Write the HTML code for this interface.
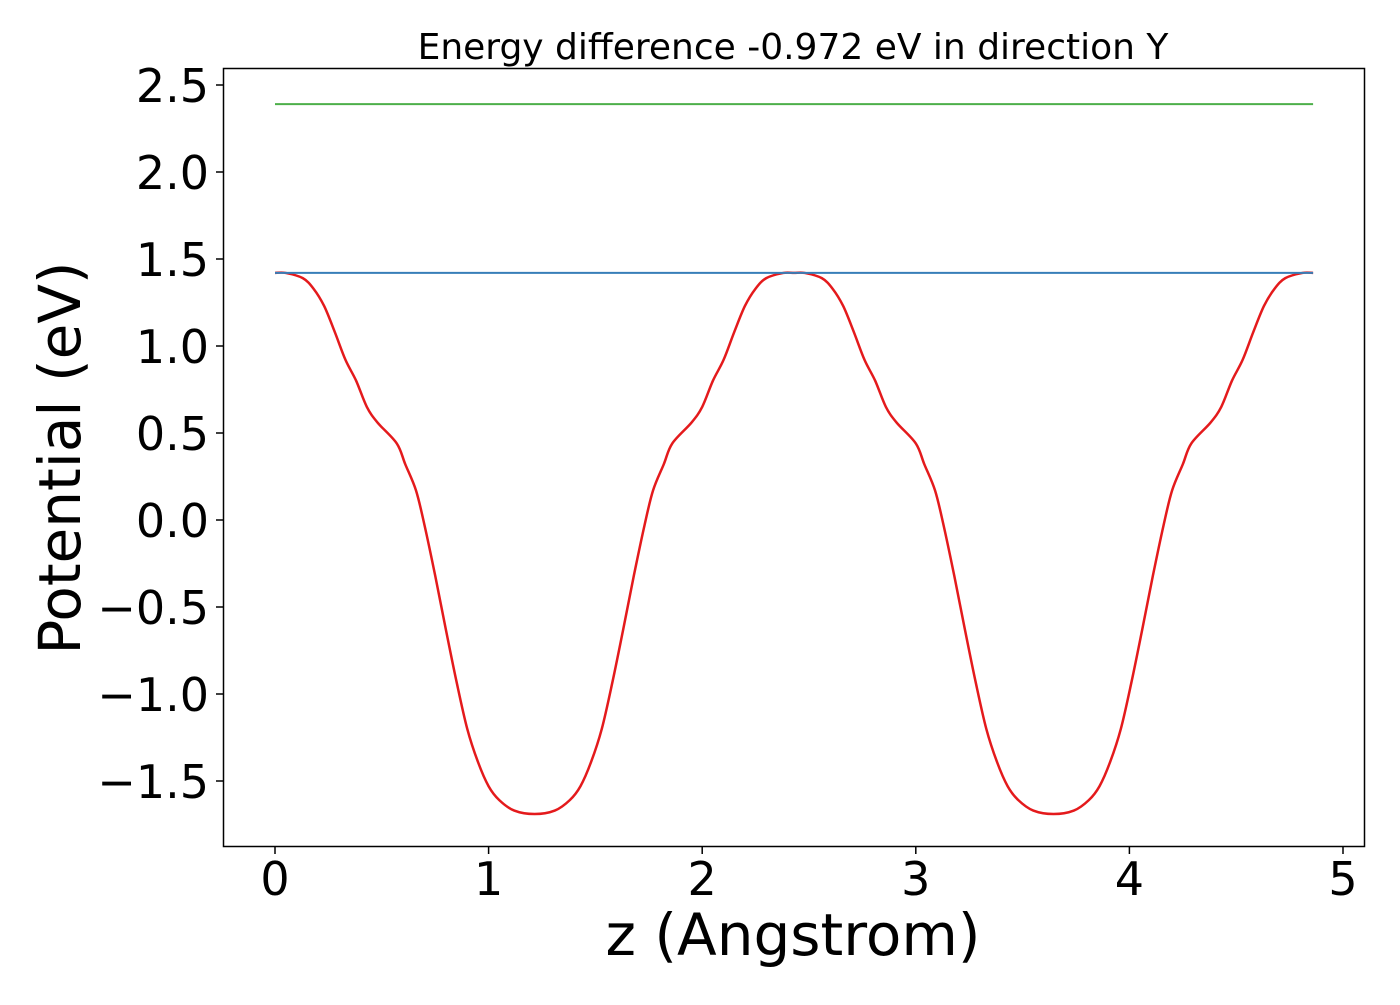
<!DOCTYPE html>
<html><head><meta charset="utf-8"><style>
body{margin:0;background:#fff;}
svg text{font-family:"DejaVu Sans","Liberation Sans",sans-serif;fill:#000;}
</style></head><body>
<svg id="chart" width="1400" height="1000" xmlns="http://www.w3.org/2000/svg">
<rect x="0" y="0" width="1400" height="1000" fill="#fff"/>
<g id="plot"></g>
<rect x="223.5" y="68.5" width="1141" height="778" fill="none" stroke="#000" stroke-width="1.5"/>
<text x="793" y="59" font-size="36" text-anchor="middle">Energy difference -0.972 eV in direction Y</text>
<text x="793" y="955" font-size="58" text-anchor="middle">z (Angstrom)</text>
<text x="0" y="0" font-size="58" text-anchor="middle" transform="translate(80,458) rotate(-90)">Potential (eV)</text>
</svg>
<script>
const xTicks=[0,1,2,3,4,5];
const yTicks=[-1.5,-1.0,-0.5,0.0,0.5,1.0,1.5,2.0,2.5];
const zValues=[0,0.05,0.13,0.18,0.23,0.28,0.33,0.38,0.43,0.48,0.57,0.61,0.66,0.70,0.75,0.80,0.85,0.90,0.95,1.00,1.05,1.12,1.215,1.31,1.38,1.43,1.48,1.53,1.58,1.63,1.68,1.73,1.77,1.82,1.86,1.95,2.00,2.05,2.10,2.15,2.20,2.25,2.30,2.38,2.43,2.48,2.56,2.61,2.66,2.71,2.76,2.81,2.86,2.91,3.00,3.04,3.09,3.13,3.18,3.23,3.28,3.33,3.38,3.43,3.48,3.55,3.645,3.74,3.81,3.86,3.91,3.96,4.01,4.06,4.11,4.16,4.20,4.25,4.29,4.38,4.43,4.48,4.53,4.58,4.63,4.68,4.73,4.81,4.86];
const potential=[1.42,1.42,1.39,1.33,1.23,1.08,0.92,0.80,0.65,0.56,0.44,0.32,0.17,-0.03,-0.32,-0.63,-0.93,-1.20,-1.39,-1.53,-1.61,-1.67,-1.69,-1.67,-1.61,-1.53,-1.39,-1.20,-0.93,-0.63,-0.32,-0.03,0.17,0.32,0.44,0.56,0.65,0.80,0.92,1.08,1.23,1.33,1.39,1.42,1.42,1.42,1.39,1.33,1.23,1.08,0.92,0.80,0.65,0.56,0.44,0.32,0.17,-0.03,-0.32,-0.63,-0.93,-1.20,-1.39,-1.53,-1.61,-1.67,-1.69,-1.67,-1.61,-1.53,-1.39,-1.20,-0.93,-0.63,-0.32,-0.03,0.17,0.32,0.44,0.56,0.65,0.80,0.92,1.08,1.23,1.33,1.39,1.42,1.42];
const blueLevel=[1.42];
const greenLevel=[2.39];
const zRange=[0,4.86];

const NS="http://www.w3.org/2000/svg";
const X0=275,XS=213.6,Y0=520,YS=174;
function sx(v){return X0+v*XS;}
function sy(v){return Y0-v*YS;}
const svg=document.getElementById('chart');
const plot=document.getElementById('plot');

xTicks.forEach(t=>{
  const l=document.createElementNS(NS,'line');
  
  
  l.setAttribute('x1',sx(t));l.setAttribute('x2',sx(t));l.setAttribute('y1',847);l.setAttribute('y2',854);
  l.setAttribute('stroke','#000');l.setAttribute('stroke-width','1.5');
  svg.appendChild(l);
  const tx=document.createElementNS(NS,'text');
  
  
  tx.setAttribute('x',sx(t));tx.setAttribute('y',895);
  tx.setAttribute('font-size','46');tx.setAttribute('text-anchor','middle');
  tx.textContent=String(t);
  svg.appendChild(tx);
});
yTicks.forEach(t=>{
  const l=document.createElementNS(NS,'line');
  
  
  l.setAttribute('x1',216);l.setAttribute('x2',223);l.setAttribute('y1',sy(t));l.setAttribute('y2',sy(t));
  l.setAttribute('stroke','#000');l.setAttribute('stroke-width','1.5');
  svg.appendChild(l);
  const tx=document.createElementNS(NS,'text');
  
  
  tx.setAttribute('x',209);tx.setAttribute('y',sy(t)+17);
  tx.setAttribute('font-size','46');tx.setAttribute('text-anchor','end');
  tx.textContent=(t<0?'\u2212':'')+Math.abs(t).toFixed(1);
  svg.appendChild(tx);
});

function hline(v,color,name){
  const l=document.createElementNS(NS,'line');
  
  
  l.setAttribute('x1',sx(zRange[0]));l.setAttribute('x2',sx(zRange[1]));
  l.setAttribute('y1',sy(v));l.setAttribute('y2',sy(v));
  l.setAttribute('stroke',color);l.setAttribute('stroke-width','2');
  plot.appendChild(l);
}
hline(greenLevel[0],'#4daf4a','green-level-line');

const pts=zValues.map((z,i)=>[sx(z),sy(potential[i])]);
let d='M'+pts[0][0]+','+pts[0][1];
for(let i=0;i<pts.length-1;i++){
  const p0=pts[Math.max(0,i-1)],p1=pts[i],p2=pts[i+1],p3=pts[Math.min(pts.length-1,i+2)];
  const c1x=p1[0]+(p2[0]-p0[0])/6,c1y=p1[1]+(p2[1]-p0[1])/6;
  const c2x=p2[0]-(p3[0]-p1[0])/6,c2y=p2[1]-(p3[1]-p1[1])/6;
  d+=' C'+c1x+','+c1y+' '+c2x+','+c2y+' '+p2[0]+','+p2[1];
}
const path=document.createElementNS(NS,'path');


path.setAttribute('d',d);path.setAttribute('fill','none');
path.setAttribute('stroke','#e41a1c');path.setAttribute('stroke-width','2.5');
plot.appendChild(path);
hline(blueLevel[0],'#377eb8','blue-level-line');
</script>
</body></html>
